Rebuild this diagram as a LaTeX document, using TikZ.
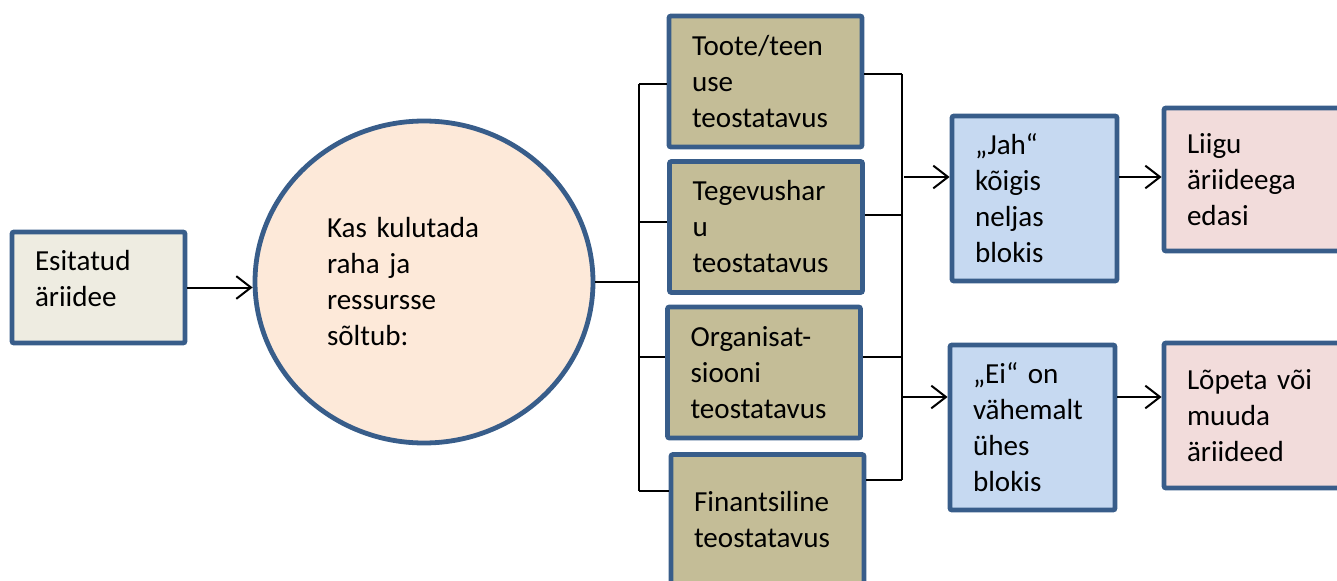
\documentclass[tikz,border=0pt]{standalone}
\usepackage{fontspec}
\setmainfont{Carlito}
\usepackage{xcolor}
\usepackage{tikz}
\definecolor{edge}{RGB}{56,93,138}
\definecolor{grey}{RGB}{238,236,225}
\definecolor{peach}{RGB}{253,233,217}
\definecolor{tan}{RGB}{196,189,151}
\definecolor{sky}{RGB}{198,217,241}
\definecolor{rose}{RGB}{242,220,219}
\usetikzlibrary{shapes.geometric,arrows.meta}

\begin{document}
\begin{tikzpicture}[x=0.75pt,y=-0.75pt,
    box/.style n args={3}{draw=edge,line width=3.6pt,rounded corners=1.5pt,fill=#3,
        align=left,inner xsep=0pt,inner ysep=0pt,
        minimum width=#1*0.75pt,text width=#1*0.75pt-34.5pt,minimum height=#2*0.75pt,
        font=\fontsize{21.8pt}{27pt}\selectfont},
    wire/.style={line width=1.3pt,black},
    arr/.style={line width=1.5pt,black,-{Straight Barb[length=11pt,width=17pt,line width=1.5pt]}}]
    \useasboundingbox (0,0) rectangle (1337,581);
    \clip (0,0) rectangle (1337,581);

    % start and question
    \node[box={173}{111}{grey},text depth=40pt] (esit) at (98.5,287.5) {Esitatud\\äriidee};
    \node[draw=edge,line width=3.6pt,fill=peach,ellipse,inner sep=0pt,
        minimum width=338*0.75pt,minimum height=322*0.75pt,
        align=left,text width=194*0.75pt,font=\fontsize{21.8pt}{27pt}\selectfont]
        (circ) at (424,282) {Kas kulutada\\raha ja\\ressursse\\sõltub:};

    % four feasibility blocks
    \node[box={193}{131}{tan}] (t1) at (765.5,81.5) {Toote/teen\\use\\teostatavus};
    \node[box={193}{131}{tan}] (t2) at (766,227) {Tegevushar\\u\\teostatavus};
    \node[box={193}{131}{tan}] (t3) at (764,372.5) {Organisat-\\siooni\\teostatavus};
    \node[box={193}{131}{tan}] (t4) at (767.5,520) {Finantsiline\\teostatavus};

    % outcomes
    \node[box={165}{165}{sky}] (jah) at (1034.5,198.5) {„Jah“\\kõigis\\neljas\\blokis};
    \node[box={165}{165}{sky}] (ei) at (1032.5,427.5) {„Ei“ on\\vähemalt\\ühes\\blokis};
    \node[box={190}{143}{rose}] (liigu) at (1259,179.5) {Liigu\\äriideega\\edasi};
    \node[box={190}{145}{rose}] (lopeta) at (1259,415.5) {Lõpeta või\\muuda\\äriideed};

    % connectors
    \draw[arr] (esit.east) -- (circ.west |- esit.east);
    \coordinate (lb) at (639,282);
    \draw[wire] (circ.east) -- (lb);
    \draw[wire] (639,84) -- (639,491);
    \foreach \n/\y in {t1/84,t2/222,t3/357,t4/491} {
        \coordinate (l\n) at (639,\y);
        \draw[wire] (l\n) -- (l\n -| \n.west);
    }
    \draw[wire] (902,74) -- (902,480);
    \foreach \n/\y in {t1/74,t2/215,t3/357,t4/480} {
        \coordinate (r\n) at (902,\y);
        \draw[wire] (r\n -| \n.east) -- (r\n);
    }
    \coordinate (ja) at (904,177);
    \coordinate (ea) at (902,397);
    \draw[arr] (ja) -- (ja -| jah.west);
    \draw[arr] (ja -| jah.east) -- (ja -| liigu.west);
    \draw[arr] (ea) -- (ea -| ei.west);
    \draw[arr] (ea -| ei.east) -- (ea -| lopeta.west);
\end{tikzpicture}
\end{document}
